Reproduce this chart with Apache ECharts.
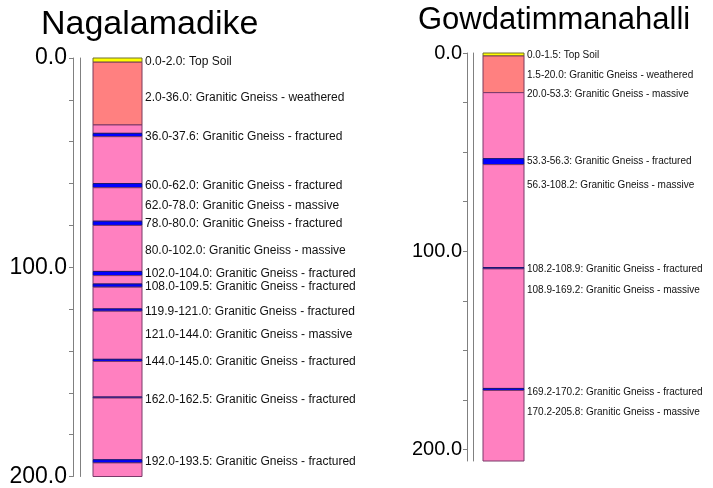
<!DOCTYPE html>
<html>
<head>
<meta charset="utf-8">
<script src="https://cdn.jsdelivr.net/npm/echarts@6.0.0/dist/echarts.min.js"></script>
<style>
html, body { margin: 0; padding: 0; background: #fff; }
#main { width: 713px; height: 488px; }
</style>
</head>
<body>
<div id="main"></div>
<script>
// 钻孔名称
const wellNames = ['Nagalamadike', 'Gowdatimmanahalli']

// Nagalamadike 分层顶深 (m) 和岩性
const nagaTops = [0, 2, 32, 36, 37.6, 60, 62, 78, 80, 102, 104, 108, 109.5, 119.9, 121, 144, 145, 162, 162.5, 192, 193.5]
const nagaTypes = ['soil', 'weathered', 'massive', 'fractured', 'massive', 'fractured', 'massive', 'fractured', 'massive',
  'fractured', 'massive', 'fractured', 'massive', 'fractured', 'massive', 'fractured', 'massive', 'fractured', 'massive',
  'fractured', 'massive']
const nagaDepth = 200
const nagaLabelText = [
  '0.0-2.0: Top Soil',
  '2.0-36.0: Granitic Gneiss - weathered',
  '36.0-37.6: Granitic Gneiss - fractured',
  '60.0-62.0: Granitic Gneiss - fractured',
  '62.0-78.0: Granitic Gneiss - massive',
  '78.0-80.0: Granitic Gneiss - fractured',
  '80.0-102.0: Granitic Gneiss - massive',
  '102.0-104.0: Granitic Gneiss - fractured',
  '108.0-109.5: Granitic Gneiss - fractured',
  '119.9-121.0: Granitic Gneiss - fractured',
  '121.0-144.0: Granitic Gneiss - massive',
  '144.0-145.0: Granitic Gneiss - fractured',
  '162.0-162.5: Granitic Gneiss - fractured',
  '192.0-193.5: Granitic Gneiss - fractured'
]
const nagaLabelDepth = [1.6, 19.0, 37.5, 61.0, 70.8, 79.0, 92.3, 103.2, 109.2, 121.2, 132.3, 145.3, 163.3, 193.1]
const nagaTicks = [0, 20, 40, 60, 80, 100, 120, 140, 160, 180, 200]
const nagaTickLabels = [0, 100, 200]

// Gowdatimmanahalli 分层
const gowdaTops = [0, 1.5, 20, 53.3, 56.3, 108.2, 108.9, 169.2, 170.2]
const gowdaTypes = ['soil', 'weathered', 'massive', 'fractured', 'massive', 'fractured', 'massive', 'fractured', 'massive']
const gowdaDepth = 205.8
const gowdaLabelText = [
  '0.0-1.5: Top Soil',
  '1.5-20.0: Granitic Gneiss - weathered',
  '20.0-53.3: Granitic Gneiss - massive',
  '53.3-56.3: Granitic Gneiss - fractured',
  '56.3-108.2: Granitic Gneiss - massive',
  '108.2-108.9: Granitic Gneiss - fractured',
  '108.9-169.2: Granitic Gneiss - massive',
  '169.2-170.2: Granitic Gneiss - fractured',
  '170.2-205.8: Granitic Gneiss - massive'
]
const gowdaLabelDepth = [1.2, 11.0, 21.0, 54.7, 66.8, 109.3, 119.9, 171.0, 181.1]
const gowdaTicks = [0, 25, 50, 75, 100, 125, 150, 175, 200]
const gowdaTickLabels = [0, 100, 200]

// 颜色
const typeColors = { soil: '#FFFF00', weathered: '#FF8080', massive: '#FF80C0', fractured: '#0000FF' }
const typeBorders = { soil: '#707030', weathered: '#7a3a5a', massive: '#7a3a6a', fractured: '#1a1a70' }

const FONT = '"Liberation Sans", Arial, sans-serif'

// 分层数据 [顶, 底, 序号]
function buildLayers(tops, depth) {
  return tops.map((t, i) => [t, i < tops.length - 1 ? tops[i + 1] : depth, i])
}

function layerItem(types) {
  return function(params, api) {
    let p0 = api.coord([0, api.value(0)])
    let p1 = api.coord([1, api.value(1)])
    let type = types[api.value(2)]
    return {
      type: 'rect',
      shape: { x: p0[0], y: p0[1], width: p1[0] - p0[0], height: p1[1] - p0[1] },
      style: { fill: typeColors[type], stroke: typeBorders[type], lineWidth: 1 }
    }
  }
}

function labelItem(texts, fontSize) {
  return function(params, api) {
    let p = api.coord([1, api.value(0)])
    return {
      type: 'text',
      x: p[0] + 3,
      y: p[1],
      style: {
        text: texts[api.value(1)],
        fill: '#111',
        fontSize: fontSize,
        fontFamily: FONT,
        align: 'left',
        verticalAlign: 'middle'
      }
    }
  }
}

function depthAxis(grid, max, offset, ticks, tickLabels, fontSize, margin) {
  return {
    gridIndex: grid,
    type: 'value',
    position: 'left',
    inverse: true,
    min: 0,
    max: max,
    offset: offset,
    axisLine: { show: true, onZero: false, lineStyle: { color: '#808080', width: 1 } },
    axisTick: { show: true, length: 4, customValues: ticks, lineStyle: { color: '#808080' } },
    axisLabel: {
      customValues: tickLabels,
      formatter: v => v.toFixed(1),
      fontSize: fontSize,
      fontFamily: FONT,
      color: '#000',
      margin: margin
    },
    splitLine: { show: false }
  }
}

function plainAxis(grid, max, offset) {
  return {
    gridIndex: grid,
    type: 'value',
    position: 'left',
    inverse: true,
    min: 0,
    max: max,
    offset: offset,
    axisLine: { show: true, onZero: false, lineStyle: { color: '#808080', width: 1 } },
    axisTick: { show: false },
    axisLabel: { show: false },
    splitLine: { show: false }
  }
}

let myChart = echarts.init(document.getElementById('main'))
myChart.setOption({
  animation: false,
  backgroundColor: '#fff',
  title: [
    { text: wellNames[0], left: 36, top: 3, textStyle: { fontSize: 34, fontWeight: 'normal', color: '#000', fontFamily: FONT } },
    { text: wellNames[1], left: 413, top: 0, textStyle: { fontSize: 31, fontWeight: 'normal', color: '#000', fontFamily: FONT } }
  ],
  grid: [
    { left: 93, width: 49, top: 58, height: 419 },
    { left: 483, width: 41, top: 53, height: 408 }
  ],
  xAxis: [
    { gridIndex: 0, type: 'value', min: 0, max: 1, show: false },
    { gridIndex: 1, type: 'value', min: 0, max: 1, show: false }
  ],
  yAxis: [
    depthAxis(0, nagaDepth, 20, nagaTicks, nagaTickLabels, 23, 6),
    plainAxis(0, nagaDepth, 13),
    depthAxis(1, gowdaDepth, 16, gowdaTicks, gowdaTickLabels, 20, 5),
    plainAxis(1, gowdaDepth, 10)
  ],
  series: [
    {
      type: 'custom',
      xAxisIndex: 0,
      yAxisIndex: 0,
      encode: { y: [0, 1] },
      renderItem: layerItem(nagaTypes),
      data: buildLayers(nagaTops, nagaDepth)
    },
    {
      type: 'custom',
      xAxisIndex: 0,
      yAxisIndex: 0,
      encode: { y: 0 },
      renderItem: labelItem(nagaLabelText, 12),
      data: nagaLabelDepth.map((d, i) => [d, i])
    },
    {
      type: 'custom',
      xAxisIndex: 1,
      yAxisIndex: 2,
      encode: { y: [0, 1] },
      renderItem: layerItem(gowdaTypes),
      data: buildLayers(gowdaTops, gowdaDepth)
    },
    {
      type: 'custom',
      xAxisIndex: 1,
      yAxisIndex: 2,
      encode: { y: 0 },
      renderItem: labelItem(gowdaLabelText, 10),
      data: gowdaLabelDepth.map((d, i) => [d, i])
    }
  ]
})
</script>
</body>
</html>
